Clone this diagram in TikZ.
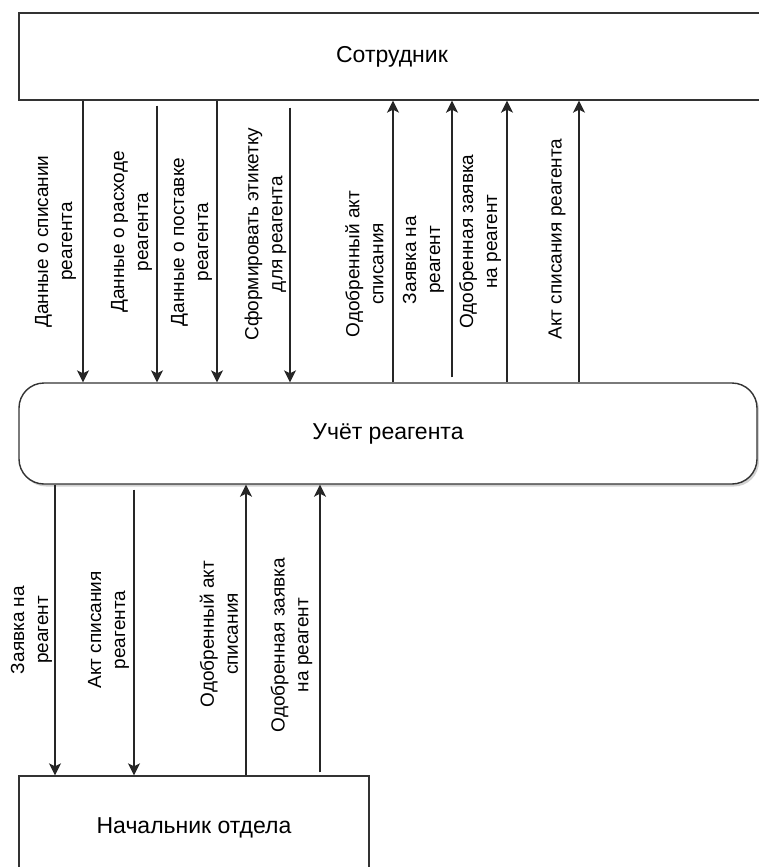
\documentclass[tikz,border=0pt]{standalone}
\usepackage{fontspec}
\setmainfont{Liberation Sans}
\usetikzlibrary{arrows.meta,shadows}
\begin{document}
\begin{tikzpicture}[x=1pt,y=-1pt,
  boxlbl/.style={font=\fontsize{23}{28}\selectfont},
  lbl/.style={font=\fontsize{19}{24}\selectfont, rotate=90, align=center, inner sep=0pt},
  boxline/.style={draw=black!80, line width=1.4pt, inner sep=0pt},
  arr/.style={line width=1.3pt, draw=black!85, -{Stealth[length=12pt,width=12pt,inset=3pt]}}]
\useasboundingbox (0,0) rectangle (759,867);
\fill[white] (0,0) rectangle (759,867);
% boxes
\node[boxline, boxlbl, minimum width=746pt, minimum height=87pt] (emp) at (392,56.5) {Сотрудник};
\node[boxline, boxlbl, rounded corners=25pt, minimum width=738pt, minimum height=101pt,
      fill=white, drop shadow={opacity=0.35, shadow xshift=2pt, shadow yshift=-2.5pt}] (proc) at (388,433.5) {Учёт реагента};
\node[boxline, boxlbl, minimum width=350pt, minimum height=104pt] (boss) at (194,828) {Начальник отдела};
% column coordinates
\coordinate (t1) at (83,0);
\coordinate (t2) at (157,0);
\coordinate (t3) at (217,0);
\coordinate (t4) at (290,0);
\coordinate (t5) at (393,0);
\coordinate (t6) at (452,0);
\coordinate (t7) at (507,0);
\coordinate (t8) at (579,0);
\coordinate (b1) at (55,0);
\coordinate (b2) at (134,0);
\coordinate (b3) at (246,0);
\coordinate (b4) at (320,0);
% top connectors
\draw[arr] (t1 |- emp.south) -- (t1 |- proc.north);
\draw[arr, shorten <=5pt] (t2 |- emp.south) -- (t2 |- proc.north);
\draw[arr] (t3 |- emp.south) -- (t3 |- proc.north);
\draw[arr, shorten <=7pt] (t4 |- emp.south) -- (t4 |- proc.north);
\draw[arr] (t5 |- proc.north) -- (t5 |- emp.south);
\draw[arr, shorten <=5pt] (t6 |- proc.north) -- (t6 |- emp.south);
\draw[arr] (t7 |- proc.north) -- (t7 |- emp.south);
\draw[arr] (t8 |- proc.north) -- (t8 |- emp.south);
% bottom connectors
\draw[arr] (b1 |- proc.south) -- (b1 |- boss.north);
\draw[arr, shorten <=5pt] (b2 |- proc.south) -- (b2 |- boss.north);
\draw[arr] (b3 |- boss.north) -- (b3 |- proc.south);
\draw[arr, shorten <=3pt] (b4 |- boss.north) -- (b4 |- proc.south);
% top labels
\node[lbl] (l1) at (55.5,241.5) {Данные о списании\\реагента};
\node[lbl] (l2) at (131.5,232) {Данные о расходе\\реагента};
\node[lbl] (l3) at (191.5,242) {Данные о поставке\\реагента};
\node[lbl] (l4) at (265.5,234) {Сформировать этикетку\\для реагента};
\node[lbl] (l5) at (364.5,264) {Одобренный акт\\списания};
\node[lbl] (l6) at (423.5,260) {Заявка на\\реагент};
\node[lbl] (l7) at (480,241.5) {Одобренная заявка\\на реагент};
\node[lbl] (l8) at (557,239) {Акт списания реагента};
% bottom labels
\node[lbl] (m1) at (31.5,630) {Заявка на\\реагент};
\node[lbl] (m2) at (108.5,630) {Акт списания\\реагента};
\node[lbl] (m3) at (219,634) {Одобренный акт\\списания};
\node[lbl] (m4) at (291.5,645) {Одобренная заявка\\на реагент};
\end{tikzpicture}
\end{document}
